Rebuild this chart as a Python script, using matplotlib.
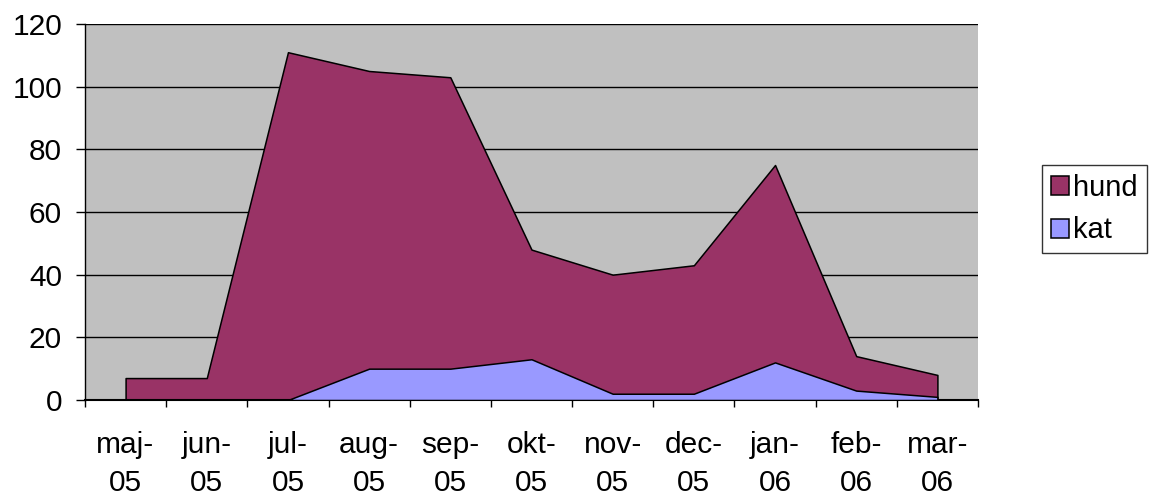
import matplotlib
matplotlib.use("Agg")
import matplotlib.pyplot as plt
import numpy as np

plt.rcParams['font.family'] = ['Liberation Sans', 'DejaVu Sans']

categories = ["maj-\n05", "jun-\n05", "jul-\n05", "aug-\n05", "sep-\n05", "okt-\n05",
              "nov-\n05", "dec-\n05", "jan-\n06", "feb-\n06", "mar-\n06"]
hund = [7, 7, 111, 105, 103, 48, 40, 43, 75, 14, 8]
kat = [None, None, 0, 10, 10, 13, 2, 2, 12, 3, 1]
yticks = [0, 20, 40, 60, 80, 100, 120]

fig = plt.figure(figsize=(11.53, 4.98), dpi=100)
ax = fig.add_axes([85/1153, 1-400/498, (978-85)/1153, (400-24)/498])
ax.set_facecolor("#C0C0C0")

x = np.arange(len(categories))
ax.fill_between(x, 0, hund, facecolor="#993366", edgecolor="black", linewidth=1.1, zorder=2, label="hund")
kx = [i for i, v in enumerate(kat) if v is not None]
ky = [v for v in kat if v is not None]
ax.fill_between(kx, 0, ky, facecolor="#9999FF", edgecolor="black", linewidth=1.1, zorder=3, label="kat")

ax.set_xlim(-0.5, len(categories) - 0.5)
ax.set_ylim(0, 120)
ax.set_yticks(yticks)
ax.set_yticklabels([str(v) for v in yticks], fontsize=21.5)
for yv in yticks[1:]:
    ax.axhline(yv, color="black", linewidth=1, zorder=1)

ax.set_xticks(np.arange(-0.5, len(categories)), minor=False)
ax.set_xticklabels([])
ax.set_xticks(x, minor=True)
ax.set_xticklabels(categories, minor=True, fontsize=21.5, linespacing=1.48)
ax.tick_params(axis="x", which="major", length=5, width=1, direction="out")
ax.tick_params(axis="x", which="minor", length=0, pad=22)
ax.tick_params(axis="y", length=6.5, width=1, direction="out", pad=10)

for s in ["top", "right"]:
    ax.spines[s].set_visible(False)
ax.spines["left"].set_linewidth(1)
ax.spines["bottom"].set_linewidth(1.5)

leg = ax.legend(loc="upper left", bbox_to_anchor=(1042/1153, 1-165/498), bbox_transform=fig.transFigure,
                fontsize=21, frameon=True, fancybox=False, edgecolor="black",
                handlelength=0.62, handleheight=0.62, handletextpad=0.15, borderpad=0.3,
                labelspacing=0.5, borderaxespad=0)
leg.get_frame().set_linewidth(1)

fig.savefig("out.png", dpi=100, facecolor="white")
